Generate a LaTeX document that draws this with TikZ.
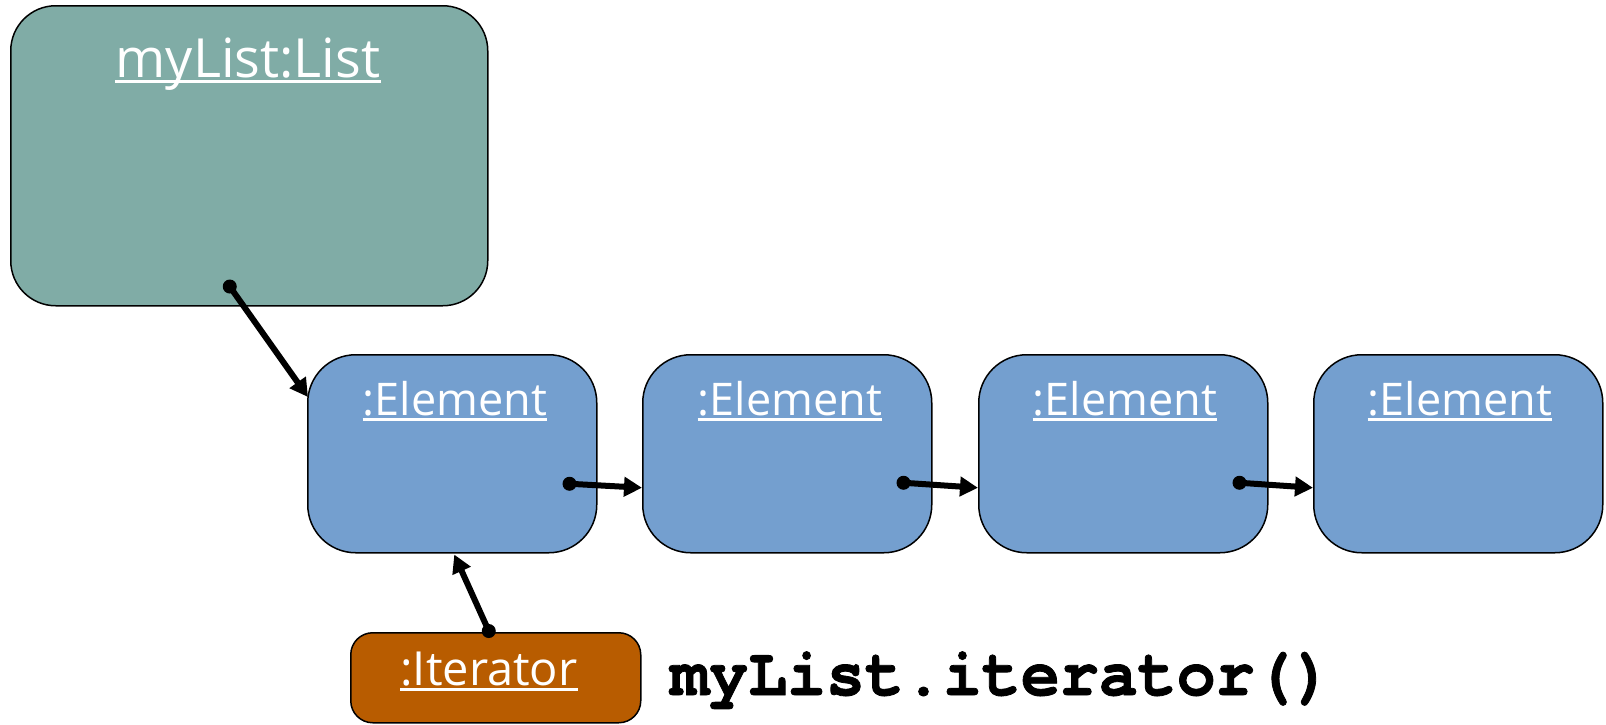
\documentclass[tikz,border=0pt]{standalone}
\usepackage{fontspec}
\setmainfont{Open Sans}
\newfontfamily\codefont{TeX Gyre Cursor}[FakeStretch=0.955,FakeBold=1.2]
\usetikzlibrary{arrows.meta,calc}
\definecolor{listfill}{RGB}{128,172,166}
\definecolor{elemfill}{RGB}{116,159,207}
\definecolor{iterfill}{RGB}{184,92,0}
\begin{document}
\begin{tikzpicture}[x=1pt,y=-1pt,
  box/.style={draw=black, line width=1.5pt, inner sep=0pt, anchor=north west, rectangle},
  listbox/.style={box, fill=listfill, rounded corners=45pt, minimum width=477pt, minimum height=300pt},
  elembox/.style={box, fill=elemfill, rounded corners=48pt, minimum width=289pt, minimum height=198pt},
  iterbox/.style={box, fill=iterfill, rounded corners=22pt, minimum width=290pt, minimum height=90pt},
  lbl/.style={text=white, inner sep=0pt, anchor=base},
  bigfont/.style={font=\fontsize{54}{62}\selectfont},
  midfont/.style={font=\fontsize{45}{52}\selectfont},
  uline/.style={draw=white, line width=2.8pt},
  conn/.style={line width=6pt, -{Triangle[length=18pt,width=19pt]}},
  dot/.style={fill=black}
]
\useasboundingbox (0,0) rectangle (1606,724);

% boxes
\node[listbox] (list) at (10,5) {};
\node[elembox] (e1) at (307,354) {};
\node[elembox] (e2) at (642,354) {};
\node[elembox] (e3) at (978,354) {};
\node[elembox] (e4) at (1313,354) {};
\node[iterbox] (it) at (350,632) {};

% labels
\node[lbl, bigfont] (tl) at (248,77) {myList:List};
\node[lbl, midfont] (t1) at (455,415) {:Element};
\node[lbl, midfont] (t2) at (790,415) {:Element};
\node[lbl, midfont] (t3) at (1125,415) {:Element};
\node[lbl, midfont] (t4) at (1460,415) {:Element};
\node[lbl, font=\fontsize{47}{54}\selectfont] (ti) at (489,685) {:Iterator};
\foreach \n in {tl,t1,t2,t3,t4,ti}{
  \draw[uline] ([yshift=-4.5pt]\n.base west) -- ([yshift=-4.5pt]\n.base east);
}

\node[inner sep=0pt, anchor=base west, font=\codefont\bfseries\fontsize{68}{76}\selectfont] (code) at (670,695) {myList.iterator()};

% connector end points
\coordinate (d0) at ($(list.south)+(-19.5,-20)$);
\coordinate (a0) at ($(e1.north west)+(1,43)$);
\coordinate (d1) at ($(e1.east)+(-28,30)$);
\coordinate (a1) at ($(e2.west)+(0,34)$);
\coordinate (d2) at ($(e2.east)+(-29,29)$);
\coordinate (a2) at ($(e3.west)+(0,34)$);
\coordinate (d3) at ($(e3.east)+(-29,29)$);
\coordinate (a3) at ($(e4.west)+(0,34)$);
\coordinate (di) at ($(it.north)+(-7,-1)$);
\coordinate (ai) at ($(e1.south)+(2,1)$);

\draw[conn] (d0) -- (a0);
\draw[conn] (d1) -- (a1);
\draw[conn] (d2) -- (a2);
\draw[conn] (d3) -- (a3);
\draw[conn] (di) -- (ai);
\foreach \d in {d0,d1,d2,d3,di}{
  \fill[dot] (\d) circle (7pt);
}
\end{tikzpicture}
\end{document}
